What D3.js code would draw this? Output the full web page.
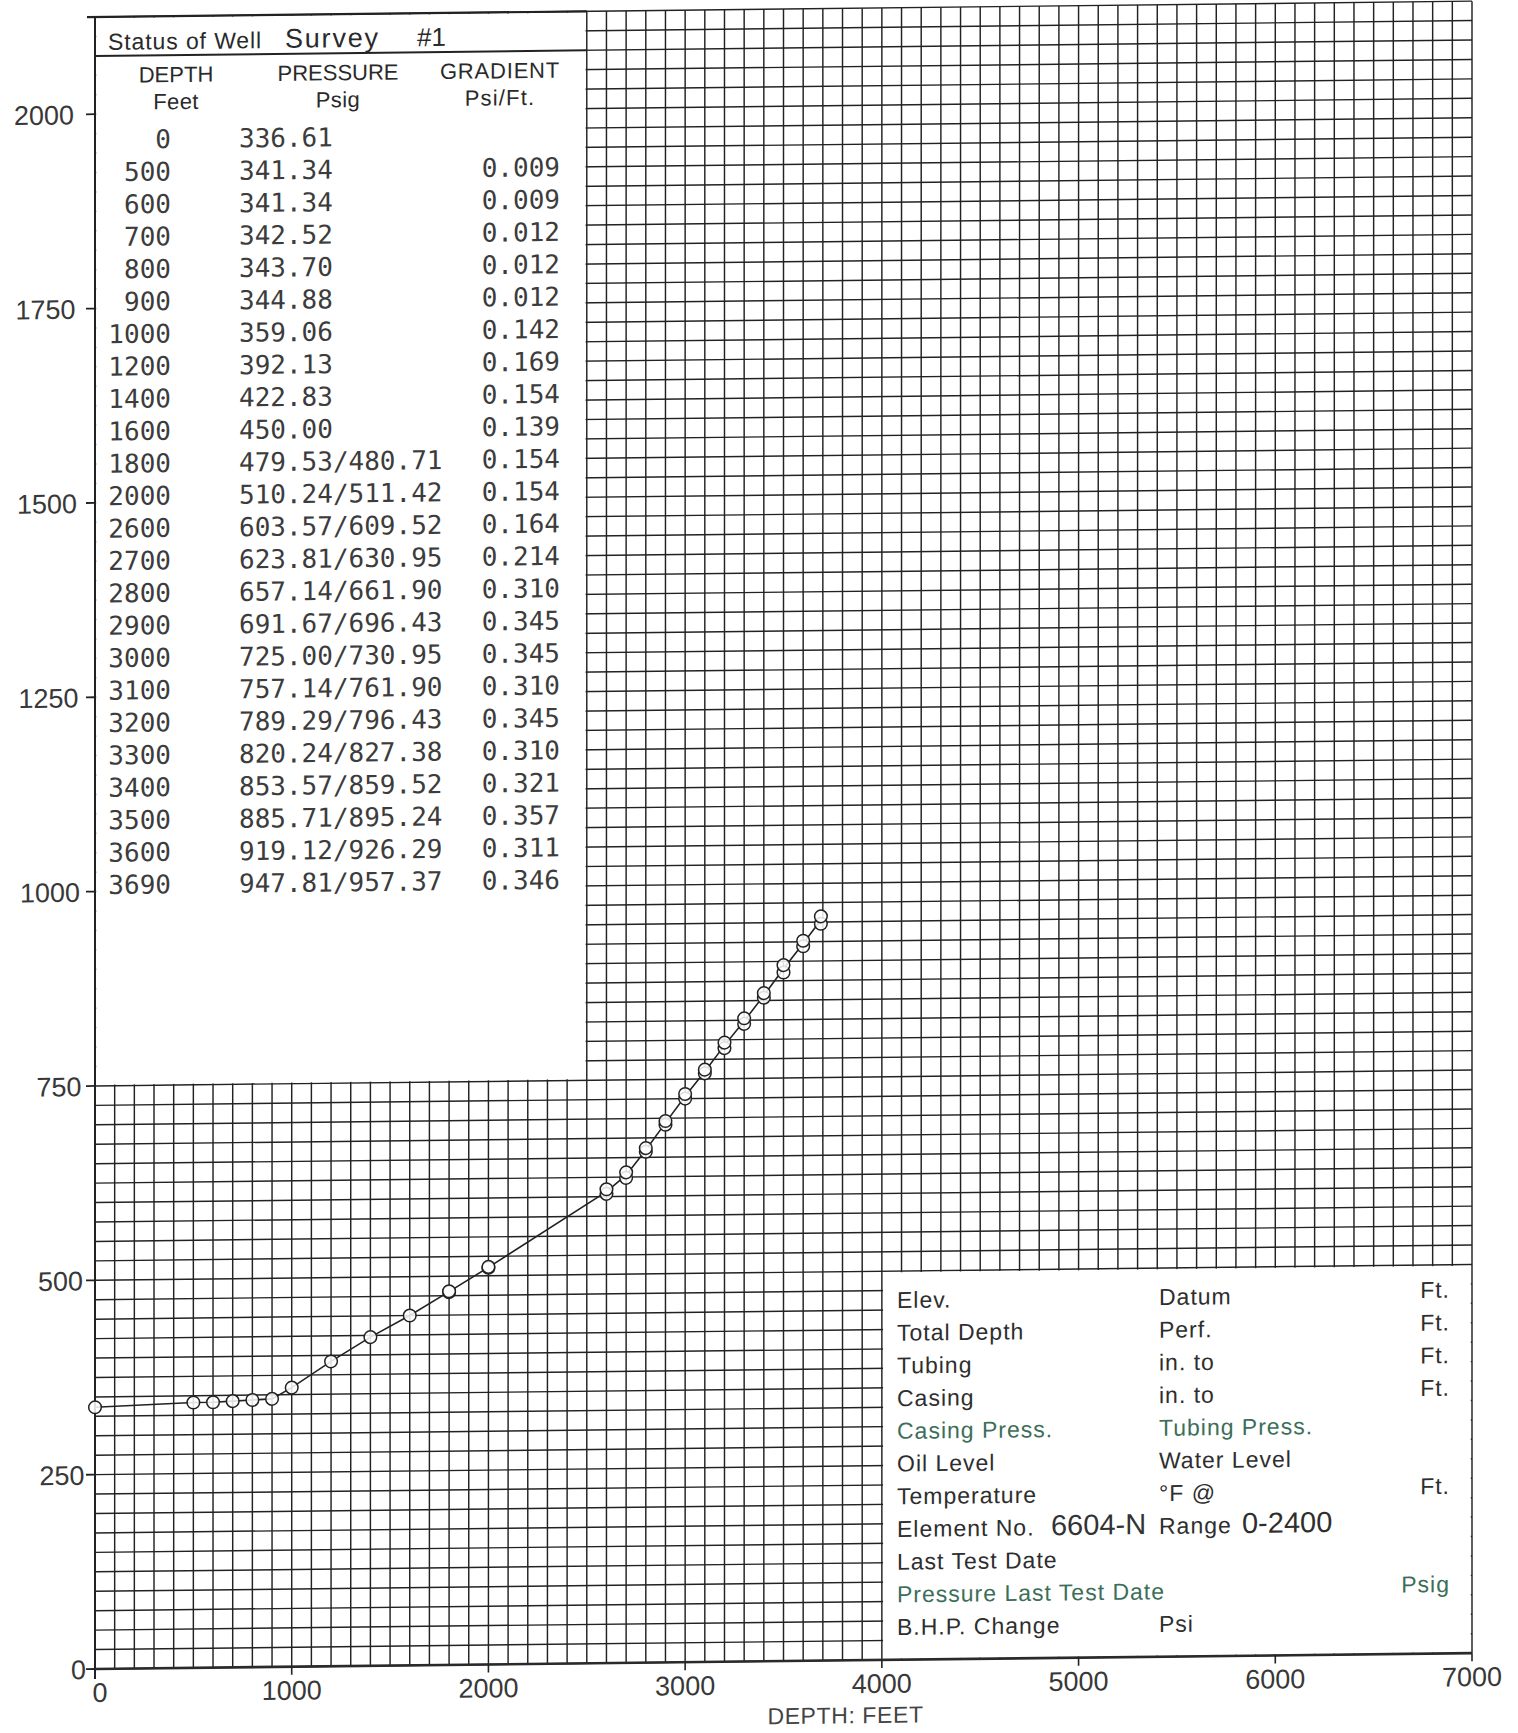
<!DOCTYPE html>
<html>
<head>
<meta charset="utf-8">
<script src="https://cdn.jsdelivr.net/npm/d3@7"></script>
<style>
  html, body { margin: 0; padding: 0; background: #fff; }
  svg { display: block; }
</style>
</head>
<body>
<svg id="chart" width="1518" height="1733"></svg>
<script>
// ---------------- DATA ----------------
const depths = [0, 500, 600, 700, 800, 900, 1000, 1200, 1400, 1600, 1800, 2000,
  2600, 2700, 2800, 2900, 3000, 3100, 3200, 3300, 3400, 3500, 3600, 3690];
const pressLow = [336.61, 341.34, 341.34, 342.52, 343.70, 344.88, 359.06, 392.13, 422.83, 450.00,
  479.53, 510.24, 603.57, 623.81, 657.14, 691.67, 725.00, 757.14, 789.29, 820.24, 853.57, 885.71, 919.12, 947.81];
const pressHigh = [null, null, null, null, null, null, null, null, null, null,
  480.71, 511.42, 609.52, 630.95, 661.90, 696.43, 730.95, 761.90, 796.43, 827.38, 859.52, 895.24, 926.29, 957.37];
const gradients = ["", "0.009", "0.009", "0.012", "0.012", "0.012", "0.142", "0.169", "0.154", "0.139",
  "0.154", "0.154", "0.164", "0.214", "0.310", "0.345", "0.345", "0.310", "0.345", "0.310", "0.321", "0.357", "0.311", "0.346"];
const xTicks = [0, 1000, 2000, 3000, 4000, 5000, 6000, 7000];
const yTicks = [0, 250, 500, 750, 1000, 1250, 1500, 1750, 2000];
const xTitle = "DEPTH: FEET";
const tableTitle = ["Status of Well", "Survey", "#1"];
const tableHeads = [["DEPTH", "Feet"], ["PRESSURE", "Psig"], ["GRADIENT", "Psi/Ft."]];
const infoLeft = ["Elev.", "Total Depth", "Tubing", "Casing", "Casing Press.", "Oil Level",
  "Temperature", "Element No.", "Last Test Date", "Pressure Last Test Date", "B.H.P. Change"];
const infoMid = ["Datum", "Perf.", "in. to", "in. to", "Tubing Press.", "Water Level",
  "°F @", "Range", "", "", "Psi"];
const infoRight = ["Ft.", "Ft.", "Ft.", "Ft.", "", "", "Ft.", "", "", "Psig", ""];
const infoTyped = ["", "", "", "", "", "", "", "6604-N", "", "", ""];
const infoTypedMid = ["", "", "", "", "", "", "", "0-2400", "", "", ""];
const infoGreen = [false, false, false, false, true, false, false, false, false, true, false];
const infoMidGreen = [false, false, false, false, true, false, false, false, false, false, false];

// ---------------- SCALES ----------------
const x = d3.scaleLinear().domain([0, 7000]).range([95, 1472]);
const y = d3.scaleLinear().domain([0, 2125]).range([1669, 17]);
const gridTop = 2125;

const svg = d3.select("#chart");
svg.append("rect").attr("width", 1518).attr("height", 1733).attr("fill", "#fff");

// scanned page is slightly sheared: horizontal lines rise to the right
const shear = 0.01152;
const g = svg.append("g")
  .attr("transform", `matrix(1,${-shear},0,1,0,${shear * x(0)})`);

const ink = "#222";

// ---------------- GRID ----------------
const grid = g.append("g").attr("stroke", ink).attr("stroke-width", 1.45).attr("fill", "none");
grid.selectAll("line.v").data(d3.range(0, 7001, 100)).join("line")
  .attr("x1", d => x(d)).attr("x2", d => x(d))
  .attr("y1", y(0)).attr("y2", y(gridTop));
grid.selectAll("line.h").data(d3.range(0, gridTop + 1, 25)).join("line")
  .attr("x1", x(0)).attr("x2", x(7000))
  .attr("y1", d => y(d)).attr("y2", d => y(d));

// white panels (table + info box)
g.append("rect")
  .attr("x", x(0) + 1.2).attr("y", y(gridTop) + 1.2)
  .attr("width", x(2500) - x(0) - 2.4).attr("height", y(750) - y(gridTop) - 2.4)
  .attr("fill", "#fff");
g.append("rect")
  .attr("x", x(4000) + 1.2).attr("y", y(500) + 1.2)
  .attr("width", x(7000) - x(4000) - 2.4).attr("height", y(0) - y(500) - 2.4)
  .attr("fill", "#fff");

// axis lines (slightly heavier)
g.append("line").attr("x1", x(0)).attr("x2", x(0)).attr("y1", y(gridTop)).attr("y2", y(0) + 10)
  .attr("stroke", ink).attr("stroke-width", 2);
g.append("line").attr("x1", x(0)).attr("x2", x(7000)).attr("y1", y(0)).attr("y2", y(0))
  .attr("stroke", "#2a2a2a").attr("stroke-width", 2.6);
g.append("line").attr("x1", x(0) - 8).attr("x2", x(2500)).attr("y1", y(gridTop)).attr("y2", y(gridTop))
  .attr("stroke", ink).attr("stroke-width", 2.2);

// ---------------- AXES ----------------
g.append("g").selectAll("line").data(yTicks).join("line")
  .attr("x1", x(0) - 9).attr("x2", x(0)).attr("y1", d => y(d)).attr("y2", d => y(d))
  .attr("stroke", ink).attr("stroke-width", 1.8);
g.append("g").selectAll("line").data(xTicks).join("line")
  .attr("x1", d => x(d)).attr("x2", d => x(d)).attr("y1", y(0)).attr("y2", y(0) + 8)
  .attr("stroke", ink).attr("stroke-width", 1.6);

const yLab = g.append("g")
  .attr("transform", `matrix(1,0,0.0077,1,${-0.0077 * y(0)},0)`)
  .attr("font-family", "'Liberation Sans', Arial, sans-serif")
  .attr("font-size", 27).attr("fill", "#383838");
yLab.selectAll("text").data(yTicks).join("text")
  .attr("x", x(0) - 9).attr("y", d => y(d) + 10)
  .attr("text-anchor", "end").text(d => d);

g.append("g")
  .attr("font-family", "'Liberation Sans', Arial, sans-serif")
  .attr("font-size", 27).attr("fill", "#383838")
  .selectAll("text").data(xTicks).join("text")
  .attr("x", d => x(d) + (d === 0 ? 5 : 0)).attr("y", y(0) + 33)
  .attr("text-anchor", "middle").text(d => d);

g.append("text")
  .attr("x", (x(3500) + x(4100)) / 2 + 3).attr("y", y(0) + 63)
  .attr("text-anchor", "middle")
  .attr("font-family", "'Liberation Sans', Arial, sans-serif")
  .attr("font-size", 23).attr("letter-spacing", 0.6).attr("fill", "#444")
  .text(xTitle);

// ---------------- CURVE + POINTS ----------------
const mid = depths.map((d, i) => [d, pressHigh[i] == null ? pressLow[i] : (pressLow[i] + pressHigh[i]) / 2]);
g.append("path").datum(mid)
  .attr("d", d3.line().x(d => x(d[0])).y(d => y(d[1])))
  .attr("fill", "none").attr("stroke", "#222").attr("stroke-width", 1.6);

const pts = [];
depths.forEach((d, i) => {
  pts.push([d, pressLow[i]]);
  if (pressHigh[i] != null) pts.push([d, pressHigh[i]]);
});
g.append("g").selectAll("circle").data(pts).join("circle")
  .attr("cx", d => x(d[0])).attr("cy", d => y(d[1])).attr("r", 6.3)
  .attr("fill", "#fff").attr("fill-opacity", 0.85)
  .attr("stroke", "#222").attr("stroke-width", 1.5);

// ---------------- TABLE ----------------
const sans = "'Liberation Sans', Arial, sans-serif";
const mono = "'DejaVu Sans Mono', monospace";
const tTop = y(gridTop);
g.append("line").attr("x1", x(0)).attr("x2", x(2500)).attr("y1", tTop + 39).attr("y2", tTop + 39)
  .attr("stroke", ink).attr("stroke-width", 2);

const tt = g.append("text").attr("y", tTop + 33).attr("font-family", sans).attr("fill", "#2a2a2a");
tt.append("tspan").attr("x", 108).attr("font-size", 23).attr("letter-spacing", 0.9).text(tableTitle[0]);
tt.append("tspan").attr("x", 285).attr("font-size", 27).attr("letter-spacing", 1.8).text(tableTitle[1]);
tt.append("tspan").attr("x", 417).attr("font-size", 26).text(tableTitle[2]);

const headX = [176, 338, 500];
tableHeads.forEach((h, j) => {
  g.append("text").attr("x", headX[j]).attr("y", tTop + 66).attr("text-anchor", "middle")
    .attr("font-family", sans).attr("font-size", 22).attr("letter-spacing", j === 2 ? 0.8 : 0)
    .attr("fill", "#2a2a2a").text(h[0]);
  g.append("text").attr("x", headX[j]).attr("y", tTop + 93).attr("text-anchor", "middle")
    .attr("font-family", sans).attr("font-size", 22).attr("letter-spacing", j === 2 ? 1.2 : 0.4)
    .attr("fill", "#2a2a2a").text(h[1]);
});

const rowY = i => tTop + 132 + 32.4 * i;
const tbl = g.append("g").attr("font-family", mono).attr("font-size", 26).attr("fill", "#3c3c3c");
tbl.selectAll("text.d").data(depths).join("text")
  .attr("x", 171).attr("y", (d, i) => rowY(i)).attr("text-anchor", "end").text(d => d);
tbl.selectAll("text.p").data(depths).join("text")
  .attr("x", 239).attr("y", (d, i) => rowY(i))
  .text((d, i) => pressLow[i].toFixed(2) + (pressHigh[i] == null ? "" : "/" + pressHigh[i].toFixed(2)));
tbl.selectAll("text.g").data(gradients).join("text")
  .attr("x", 560).attr("y", (d, i) => rowY(i)).attr("text-anchor", "end").text(d => d);

// ---------------- INFO BOX ----------------
const iTop = y(500);
const infoY = i => iTop + 37 + 32.7 * i;
const info = g.append("g").attr("font-family", sans).attr("font-size", 23).attr("letter-spacing", 1);
const green = "#3c6e59", dark = "#2e2e2e";
infoLeft.forEach((t, i) => {
  const tx = info.append("text").attr("x", 897).attr("y", infoY(i)).attr("fill", infoGreen[i] ? green : dark);
  tx.append("tspan").text(t);
  if (infoTyped[i]) tx.append("tspan").attr("x", 1051).attr("font-size", 29).attr("letter-spacing", 0).attr("fill", "#333").text(infoTyped[i]);
});
infoMid.forEach((t, i) => {
  if (!t) return;
  const tx = info.append("text").attr("x", 1159).attr("y", infoY(i)).attr("fill", infoMidGreen[i] ? green : dark);
  tx.append("tspan").text(t);
  if (infoTypedMid[i]) tx.append("tspan").attr("x", 1242).attr("font-size", 29).attr("letter-spacing", 0).text(infoTypedMid[i]);
});
infoRight.forEach((t, i) => {
  if (!t) return;
  info.append("text").attr("x", 1450).attr("y", infoY(i) - 4).attr("text-anchor", "end")
    .attr("fill", t === "Psig" ? green : dark).text(t);
});
</script>
</body>
</html>
